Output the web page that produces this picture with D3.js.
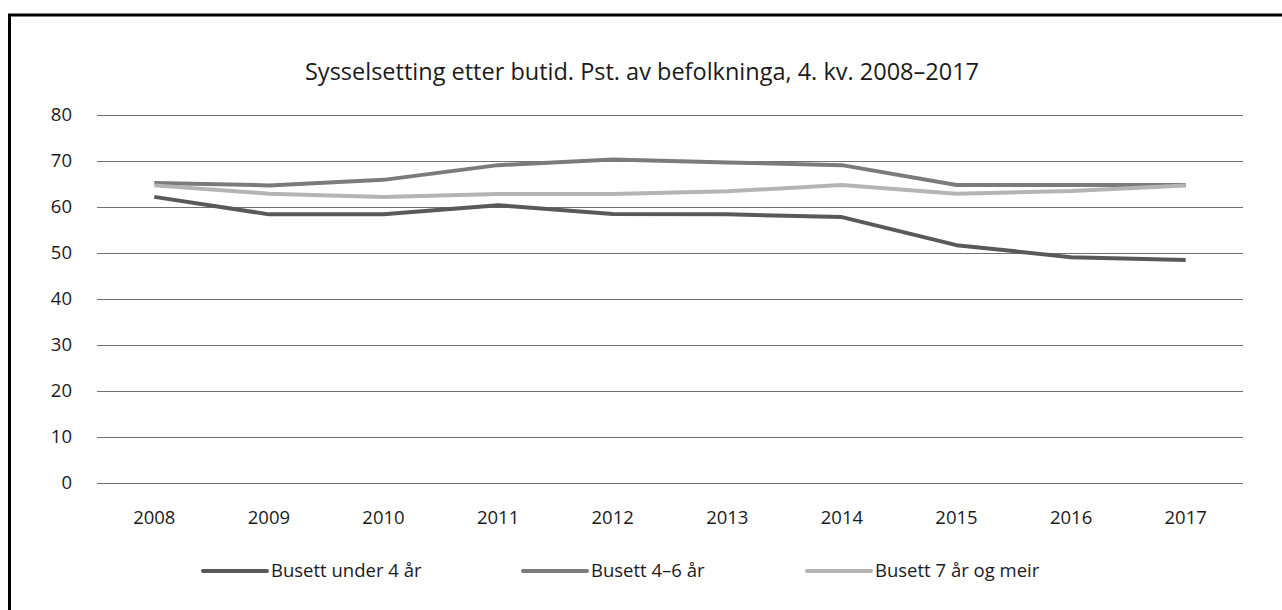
<!DOCTYPE html>
<meta charset='utf-8'>
<title>Sysselsetting etter butid</title>
<style>
  body { margin: 0; background: #fff; }
  text { font-family: 'Open Sans', sans-serif; fill: #1a1a1a; }
  .grid line { stroke: #707070; stroke-width: 1.3px; shape-rendering: crispEdges; }
  .grid path { display: none; }
  .line { fill: none; stroke-width: 4px; stroke-linejoin: round; }
</style>
<body>
<script src='https://d3js.org/d3.v7.min.js'></script>
<script>
  // data
  var years = ['2008', '2009', '2010', '2011', '2012', '2013', '2014', '2015', '2016', '2017'];
  var under4 = [62.2, 58.4, 58.4, 60.4, 58.5, 58.4, 57.8, 51.7, 49.1, 48.5];
  var from4to6 = [65.2, 64.7, 65.9, 69.1, 70.3, 69.7, 69.1, 64.8, 64.8, 64.8];
  var over7 = [64.7, 62.9, 62.2, 62.8, 62.8, 63.4, 64.8, 62.9, 63.5, 64.7];
  var yTicks = [0, 10, 20, 30, 40, 50, 60, 70, 80];
  var seriesNames = ['Busett under 4 år', 'Busett 4–6 år', 'Busett 7 år og meir'];
  var seriesColors = ['#595959', '#7b7b7b', '#b4b4b4'];

  var series = [under4, from4to6, over7].map(function(v, i) {
    return { name: seriesNames[i], color: seriesColors[i], values: v };
  });

  var W = 1282, H = 610;
  var margin = {top: 115, right: 39, bottom: 127, left: 97},
      width = W - margin.left - margin.right,
      height = H - margin.top - margin.bottom;

  var svg = d3.select('body').append('svg')
    .attr('width', W)
    .attr('height', H);

  // frame (top and left edge only)
  svg.append('path')
    .attr('d', 'M9.5,' + H + 'V15H' + W)
    .attr('fill', 'none')
    .attr('stroke', '#000')
    .attr('stroke-width', 3);

  svg.append('text')
    .attr('x', 642)
    .attr('y', 80)
    .attr('text-anchor', 'middle')
    .style('font-size', '23.5px')
    .text('Sysselsetting etter butid. Pst. av befolkninga, 4. kv. 2008–2017');

  var g = svg.append('g')
    .attr('transform', 'translate(' + margin.left + ',' + margin.top + ')');

  var x = d3.scalePoint().domain(years).range([0, width]).padding(0.5);
  var y = d3.scaleLinear().domain([0, 80]).range([height, 0]);

  // gridlines
  g.append('g')
    .attr('class', 'grid')
    .call(d3.axisLeft(y).tickValues(yTicks).tickSize(-width).tickFormat(''));

  // y labels
  g.selectAll('.ylab')
    .data(yTicks)
    .enter().append('text')
    .attr('class', 'ylab')
    .attr('x', -25)
    .attr('y', function(d) { return y(d); })
    .attr('dy', '0.35em')
    .attr('text-anchor', 'end')
    .style('font-size', '18.5px')
    .text(function(d) { return d; });

  // x labels
  g.selectAll('.xlab')
    .data(years)
    .enter().append('text')
    .attr('class', 'xlab')
    .attr('x', function(d) { return x(d); })
    .attr('y', height + 35)
    .attr('dy', '0.35em')
    .attr('text-anchor', 'middle')
    .style('font-size', '18.5px')
    .text(function(d) { return d; });

  var line = d3.line()
    .x(function(d, i) { return x(years[i]); })
    .y(function(d) { return y(d); });

  g.selectAll('.line')
    .data(series)
    .enter().append('path')
    .attr('class', 'line')
    .attr('stroke', function(d) { return d.color; })
    .attr('d', function(d) { return line(d.values); });

  // legend
  var legendX = [203, 523, 807];
  var legend = svg.selectAll('.legend')
    .data(series)
    .enter().append('g')
    .attr('class', 'legend')
    .attr('transform', function(d, i) { return 'translate(' + legendX[i] + ',571)'; });

  legend.append('line')
    .attr('x1', 0).attr('x2', 64)
    .attr('stroke', function(d) { return d.color; })
    .attr('stroke-width', 4)
    .attr('stroke-linecap', 'round');

  legend.append('text')
    .attr('x', 68)
    .attr('dy', '0.35em')
    .style('font-size', '18.5px')
    .text(function(d) { return d.name; });
</script>
</body>
